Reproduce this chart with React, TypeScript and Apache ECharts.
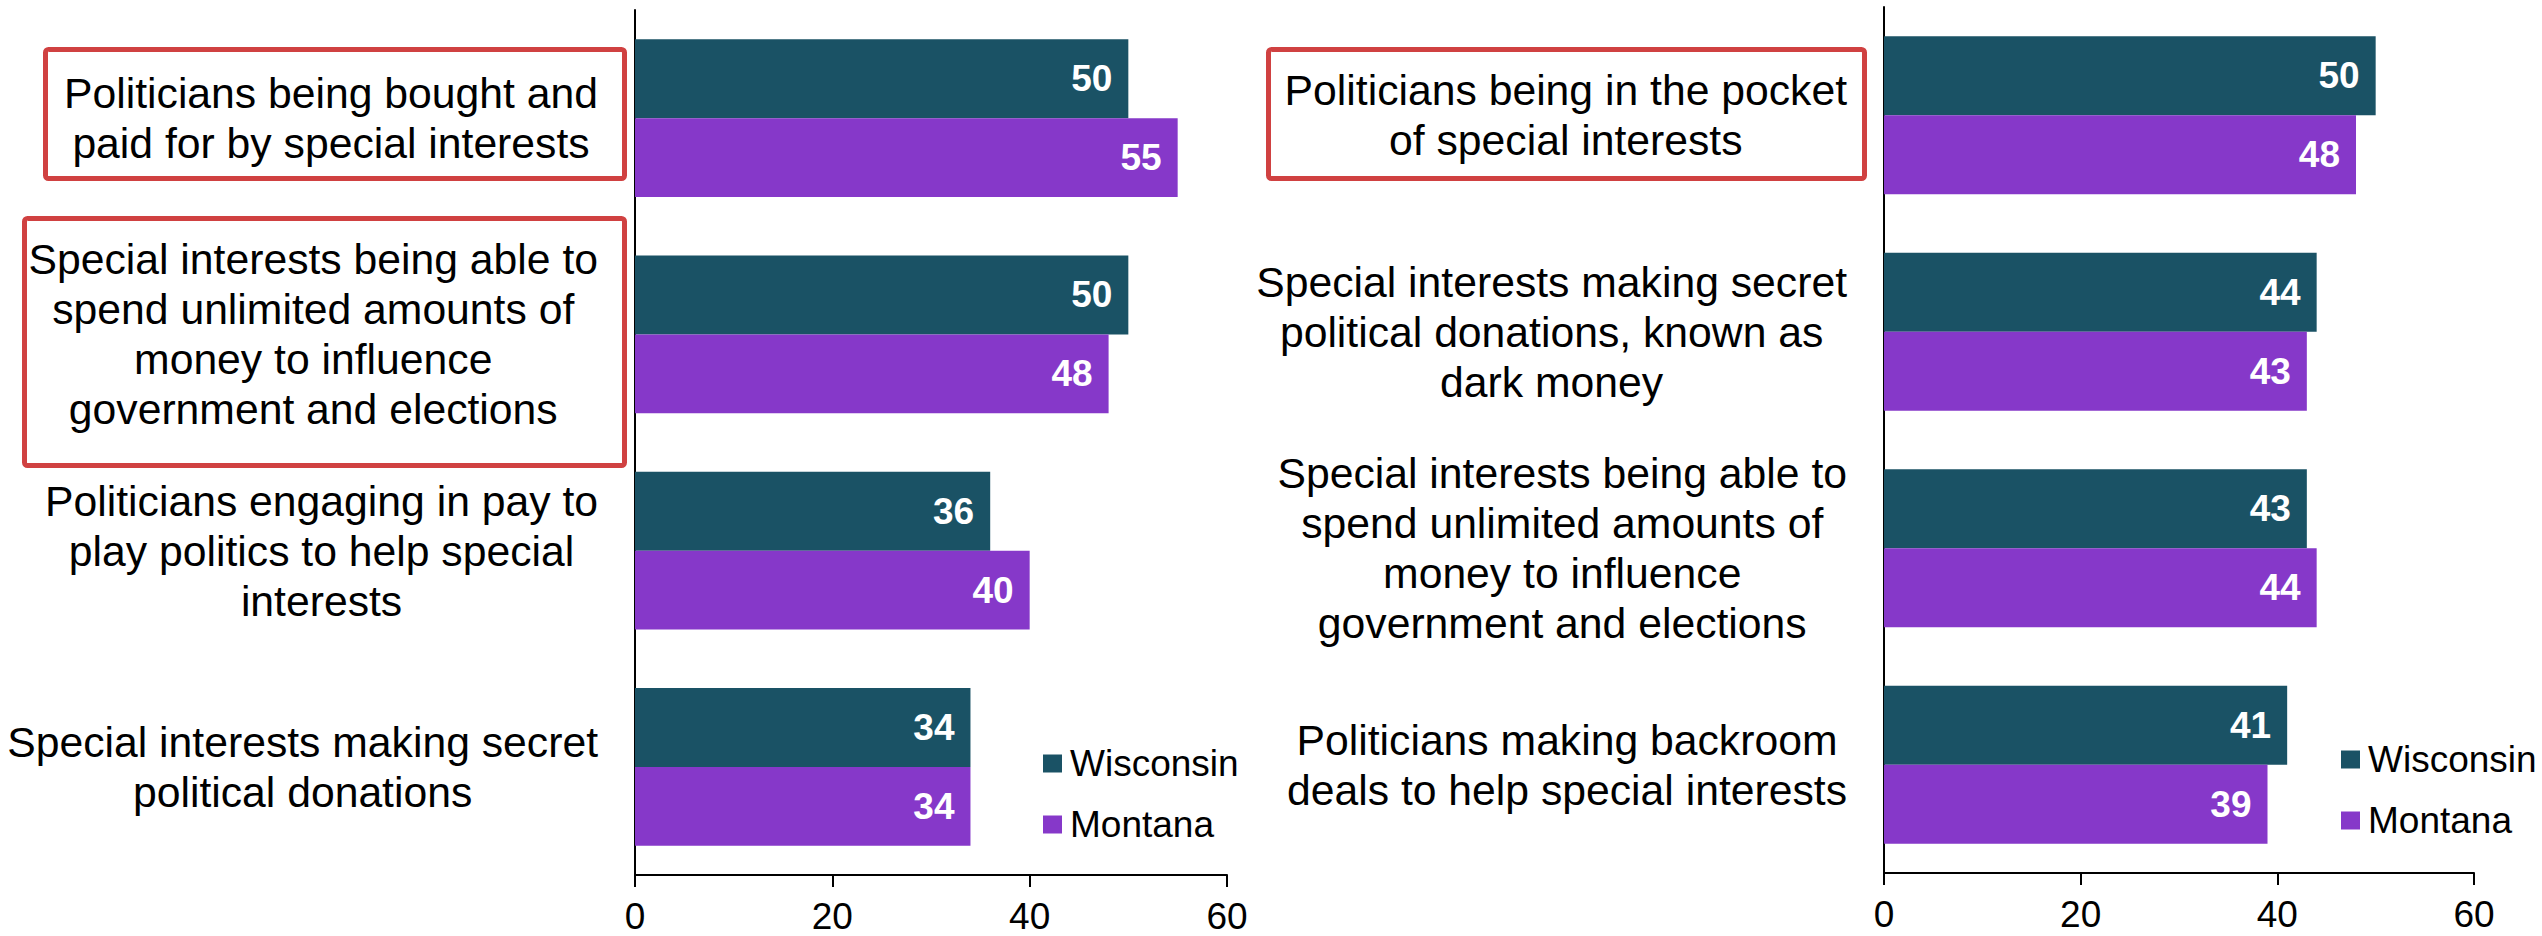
import React, { useEffect, useRef } from "react";
import * as echarts from "echarts";

const seriesNames = ["Wisconsin", "Montana"];

const leftCategories = [
  "Politicians being bought and\npaid for by special interests",
  "Special interests being able to\nspend unlimited amounts of\nmoney to influence\ngovernment and elections",
  "Politicians engaging in pay to\nplay politics to help special\ninterests",
  "Special interests making secret\npolitical donations",
];
const leftWisconsin = [50, 50, 36, 34];
const leftMontana = [55, 48, 40, 34];

const rightCategories = [
  "Politicians being in the pocket\nof special interests",
  "Special interests making secret\npolitical donations, known as\ndark money",
  "Special interests being able to\nspend unlimited amounts of\nmoney to influence\ngovernment and elections",
  "Politicians making backroom\ndeals to help special interests",
];
const rightWisconsin = [50, 44, 43, 41];
const rightMontana = [48, 43, 44, 39];

const xTicks = { min: 0, max: 60, interval: 20 };

const FONT = "'Liberation Sans', Arial, sans-serif";
const COLOR_WI = "#1A5265";
const COLOR_MT = "#8638C9";
const RED = "#D04141";

export default function App() {
  const ref = useRef<HTMLDivElement>(null);

  useEffect(() => {
    if (!ref.current) return;
    const chart = echarts.init(ref.current, undefined, { renderer: "svg" });

    const xAxisCommon = {
      type: "value",
      min: xTicks.min,
      max: xTicks.max,
      interval: xTicks.interval,
      splitLine: { show: false },
      axisLine: { show: true, lineStyle: { color: "#000", width: 2 } },
      axisTick: { show: true, length: 12, lineStyle: { color: "#000", width: 2 } },
      axisLabel: {
        fontSize: 37,
        lineHeight: 30,
        color: "#000",
        fontFamily: FONT,
        margin: 26,
      },
    };

    const yAxisCommon = (cats: string[]) => ({
      type: "category",
      data: cats,
      inverse: true,
      axisLine: { show: true, lineStyle: { color: "#000", width: 2 } },
      axisTick: { show: false },
      axisLabel: {
        margin: 37,
        align: "right",
        formatter: (v: string) =>
          v
            .split("\n")
            .map((l) => `{c|${l}}`)
            .join("\n"),
        rich: {
          c: {
            align: "center",
            fontSize: 42.7,
            lineHeight: 50,
            fontFamily: FONT,
            color: "#000",
          },
        },
      },
    });

    const labelCommon = {
      show: true,
      position: "insideRight",
      distance: 16,
      color: "#fff",
      fontWeight: "bold",
      fontSize: 37,
      fontFamily: FONT,
    };

    const mkSeries = (name: string, data: number[], idx: number, color: string) => ({
      type: "bar",
      name,
      data,
      xAxisIndex: idx,
      yAxisIndex: idx,
      barGap: "0%",
      barCategoryGap: "27%",
      itemStyle: { color },
      label: labelCommon,
    });

    const legendCommon = {
      orient: "vertical",
      icon: "rect",
      itemWidth: 19,
      itemHeight: 18,
      itemGap: 24,
      textStyle: { fontSize: 37, color: "#000", fontFamily: FONT, padding: [0, 0, 0, 3] },
      data: seriesNames,
    };

    chart.setOption({
      animation: false,
      backgroundColor: "#fff",
      grid: [
        { left: 635, top: 10, width: 592, height: 865, containLabel: false, outerBoundsMode: "none" },
        { left: 1884, top: 7, width: 590, height: 866, containLabel: false, outerBoundsMode: "none" },
      ],
      xAxis: [
        { ...xAxisCommon, gridIndex: 0 },
        { ...xAxisCommon, gridIndex: 1 },
      ],
      yAxis: [
        { ...yAxisCommon(leftCategories), gridIndex: 0 },
        { ...yAxisCommon(rightCategories), gridIndex: 1 },
      ],
      legend: [
        { ...legendCommon, left: 1038, top: 740 },
        { ...legendCommon, left: 2336, top: 736 },
      ],
      series: [
        mkSeries(seriesNames[0], leftWisconsin, 0, COLOR_WI),
        mkSeries(seriesNames[1], leftMontana, 0, COLOR_MT),
        mkSeries(seriesNames[0], rightWisconsin, 1, COLOR_WI),
        mkSeries(seriesNames[1], rightMontana, 1, COLOR_MT),
      ],
      graphic: [
        {
          type: "rect",
          shape: { x: 45.5, y: 49.5, width: 579, height: 129, r: 3 },
          style: { fill: "none", stroke: RED, lineWidth: 5 },
          silent: true,
        },
        {
          type: "rect",
          shape: { x: 24.5, y: 218.5, width: 600, height: 247, r: 3 },
          style: { fill: "none", stroke: RED, lineWidth: 5 },
          silent: true,
        },
        {
          type: "rect",
          shape: { x: 1268.5, y: 49.5, width: 596, height: 129, r: 3 },
          style: { fill: "none", stroke: RED, lineWidth: 5 },
          silent: true,
        },
      ],
    });

    return () => chart.dispose();
  }, []);

  return (
    <div
      ref={ref}
      style={{ position: "fixed", left: 0, top: 0, width: 2542, height: 936 }}
    />
  );
}
